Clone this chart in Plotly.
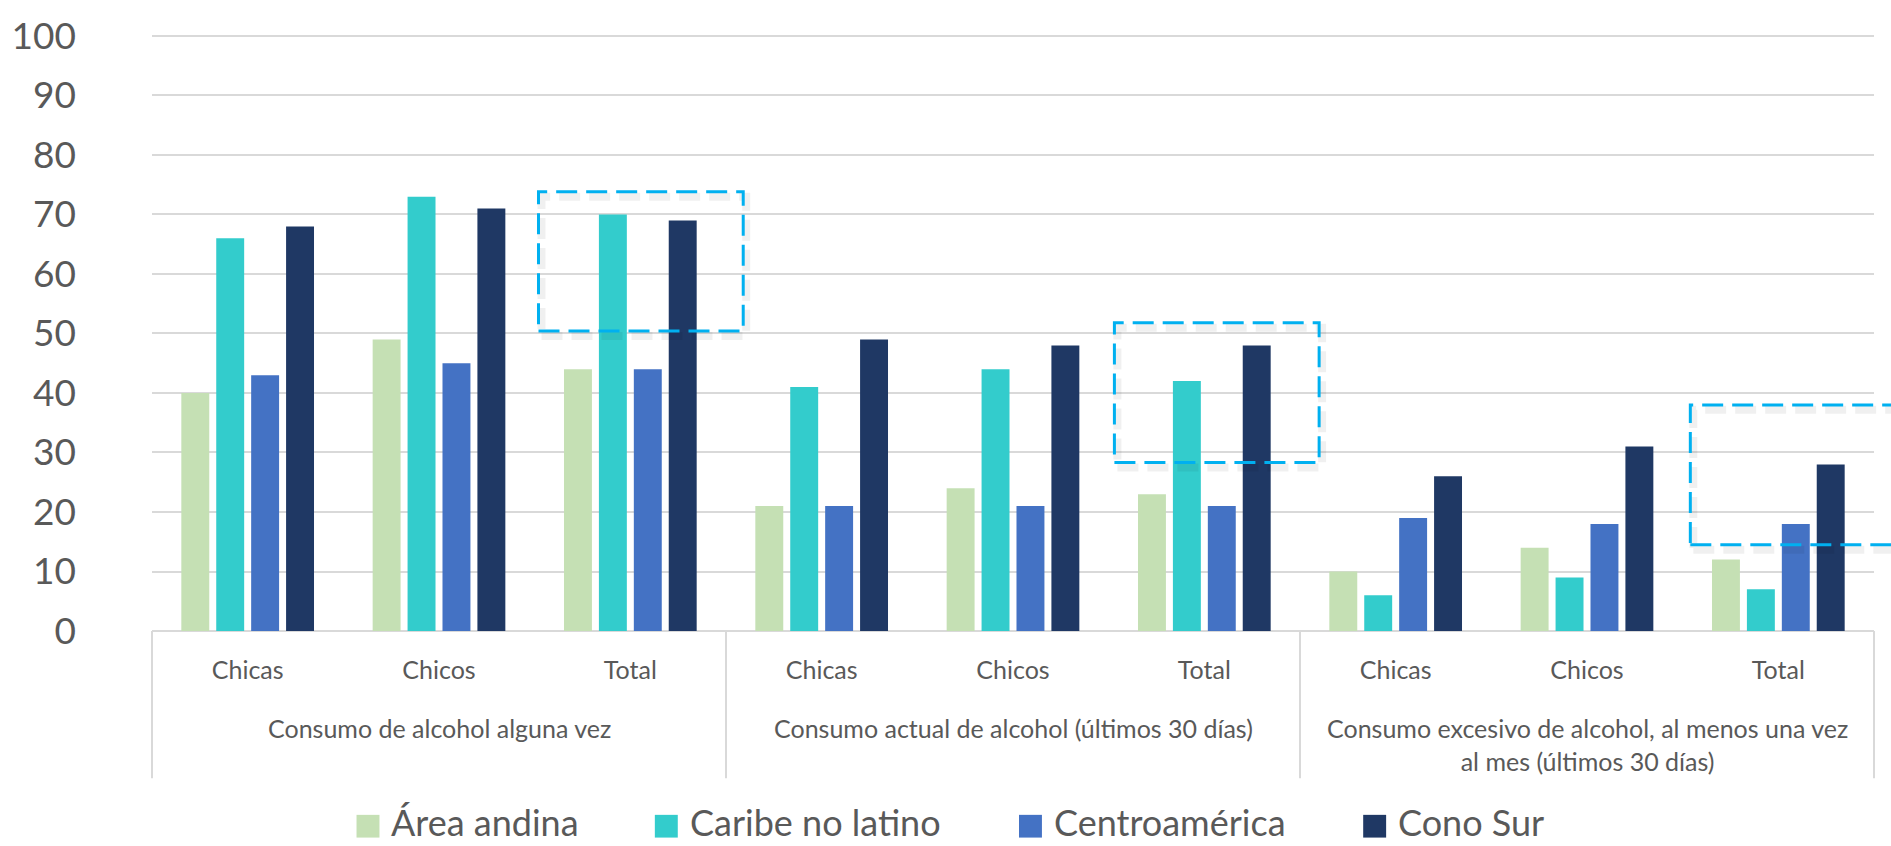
import plotly.graph_objects as go

# --- data -------------------------------------------------------------
groups = [
    "Consumo de alcohol alguna vez",
    "Consumo actual de alcohol (últimos 30 días)",
    "Consumo excesivo de alcohol, al menos una vez<br>al mes (últimos 30 días)",
]
subcats = ["Chicas", "Chicos", "Total"]
series = ["Área andina", "Caribe no latino", "Centroamérica", "Cono Sur"]

area_andina = [40, 49, 44, 21, 24, 23, 10, 14, 12]
caribe_no_latino = [66, 73, 70, 41, 44, 42, 6, 9, 7]
centroamerica = [43, 45, 44, 21, 21, 21, 19, 18, 18]
cono_sur = [68, 71, 69, 49, 48, 48, 26, 31, 28]

y_ticks = [0, 10, 20, 30, 40, 50, 60, 70, 80, 90, 100]

# highlighted regions: (x from, x to, y from, y to) in category / value units
highlights = [
    (1.52, 2.59, 50.4, 73.8),
    (4.53, 5.60, 28.3, 51.8),
    (7.54, 8.75, 14.5, 38.0),
]

# --- styling ------------------------------------------------------------
colors = ["#C5E0B4", "#33CCCC", "#4472C4", "#1F3864"]
text_color = "#595959"
grid_color = "#D9D9D9"
font_family = "Lato, Carlito, 'Liberation Sans', sans-serif"

W, H = 1891, 846
ML, MR, MT, MB = 148, 17, 26, 215
PW, PH = W - ML - MR, H - MT - MB
Y_MAX = 100.5


def px_x(px):
    return (px - ML) / PW


def px_y(py):
    return (H - MB - py) / PH


n_cat = len(groups) * len(subcats)
x_pos = list(range(n_cat))
x_labels = subcats * len(groups)


def cat_to_paper(xv):
    return (xv + 0.5) / n_cat


fig = go.Figure()
for name, vals, col in zip(series, [area_andina, caribe_no_latino, centroamerica, cono_sur], colors):
    fig.add_trace(go.Bar(x=x_pos, y=vals, name=name, marker=dict(color=col, line=dict(width=0)),
                         showlegend=False))

shapes = []
# category box separators below the axis
for g in range(len(groups) + 1):
    xp = cat_to_paper(g * len(subcats) - 0.5)
    shapes.append(dict(type="line", xref="paper", yref="paper", x0=xp, x1=xp,
                       y0=0, y1=px_y(780), line=dict(color=grid_color, width=2)))

# dashed highlight boxes with a soft shadow
for (x0, x1, y0, y1) in highlights:
    for dx, dy, col, w in [(3, 5, "rgba(0,0,0,0.06)", 8), (0, 0, "#00B0F0", 3)]:
        shapes.append(dict(type="rect", xref="paper", yref="y",
                           x0=cat_to_paper(x0) + dx / PW, x1=cat_to_paper(x1) + dx / PW,
                           y0=y0 - dy * Y_MAX / PH, y1=y1 - dy * Y_MAX / PH,
                           line=dict(color=col, width=w, dash="21px,9px"),
                           fillcolor="rgba(0,0,0,0)", layer="above"))

annotations = []
for g, label in enumerate(groups):
    annotations.append(dict(x=g * len(subcats) + 1, y=0, xref="x", yref="paper",
                            text=label, showarrow=False, xanchor="center", yanchor="top",
                            yshift=-(711 - (H - MB)), align="center",
                            font=dict(family=font_family, size=25, color=text_color)))

# legend: coloured squares followed by series names
legend_px = [353, 652, 1017, 1362]
for name, col, lx in zip(series, colors, legend_px):
    shapes.append(dict(type="rect", xref="paper", yref="paper",
                       x0=px_x(lx), x1=px_x(lx + 23), y0=px_y(840), y1=px_y(817),
                       fillcolor=col, line=dict(width=0)))
    annotations.append(dict(x=px_x(lx + 33), y=px_y(824), xref="paper", yref="paper",
                            text=name, showarrow=False, xanchor="left", yanchor="middle",
                            font=dict(family=font_family, size=36, color=text_color)))

fig.update_layout(
    width=W, height=H,
    margin=dict(l=ML, r=MR, t=MT, b=MB, pad=0),
    paper_bgcolor="white", plot_bgcolor="white",
    barmode="group", bargap=0.27, bargroupgap=0.2,
    shapes=shapes, annotations=annotations,
    showlegend=False,
    font=dict(family=font_family, color=text_color),
)
fig.update_xaxes(range=[-0.5, n_cat - 0.5], tickmode="array", tickvals=x_pos, ticktext=x_labels,
                 showgrid=False, zeroline=False, showline=False, ticks="",
                 tickfont=dict(family=font_family, size=25, color=text_color),
                 ticklabelstandoff=22, fixedrange=True)
fig.update_yaxes(range=[0, Y_MAX], tickmode="array", tickvals=y_ticks,
                 showgrid=True, gridcolor=grid_color, gridwidth=2,
                 zeroline=True, zerolinecolor=grid_color, zerolinewidth=2,
                 showline=False, ticks="",
                 tickfont=dict(family=font_family, size=37, color=text_color),
                 ticklabelstandoff=75, fixedrange=True)

fig.write_html("out.html")
